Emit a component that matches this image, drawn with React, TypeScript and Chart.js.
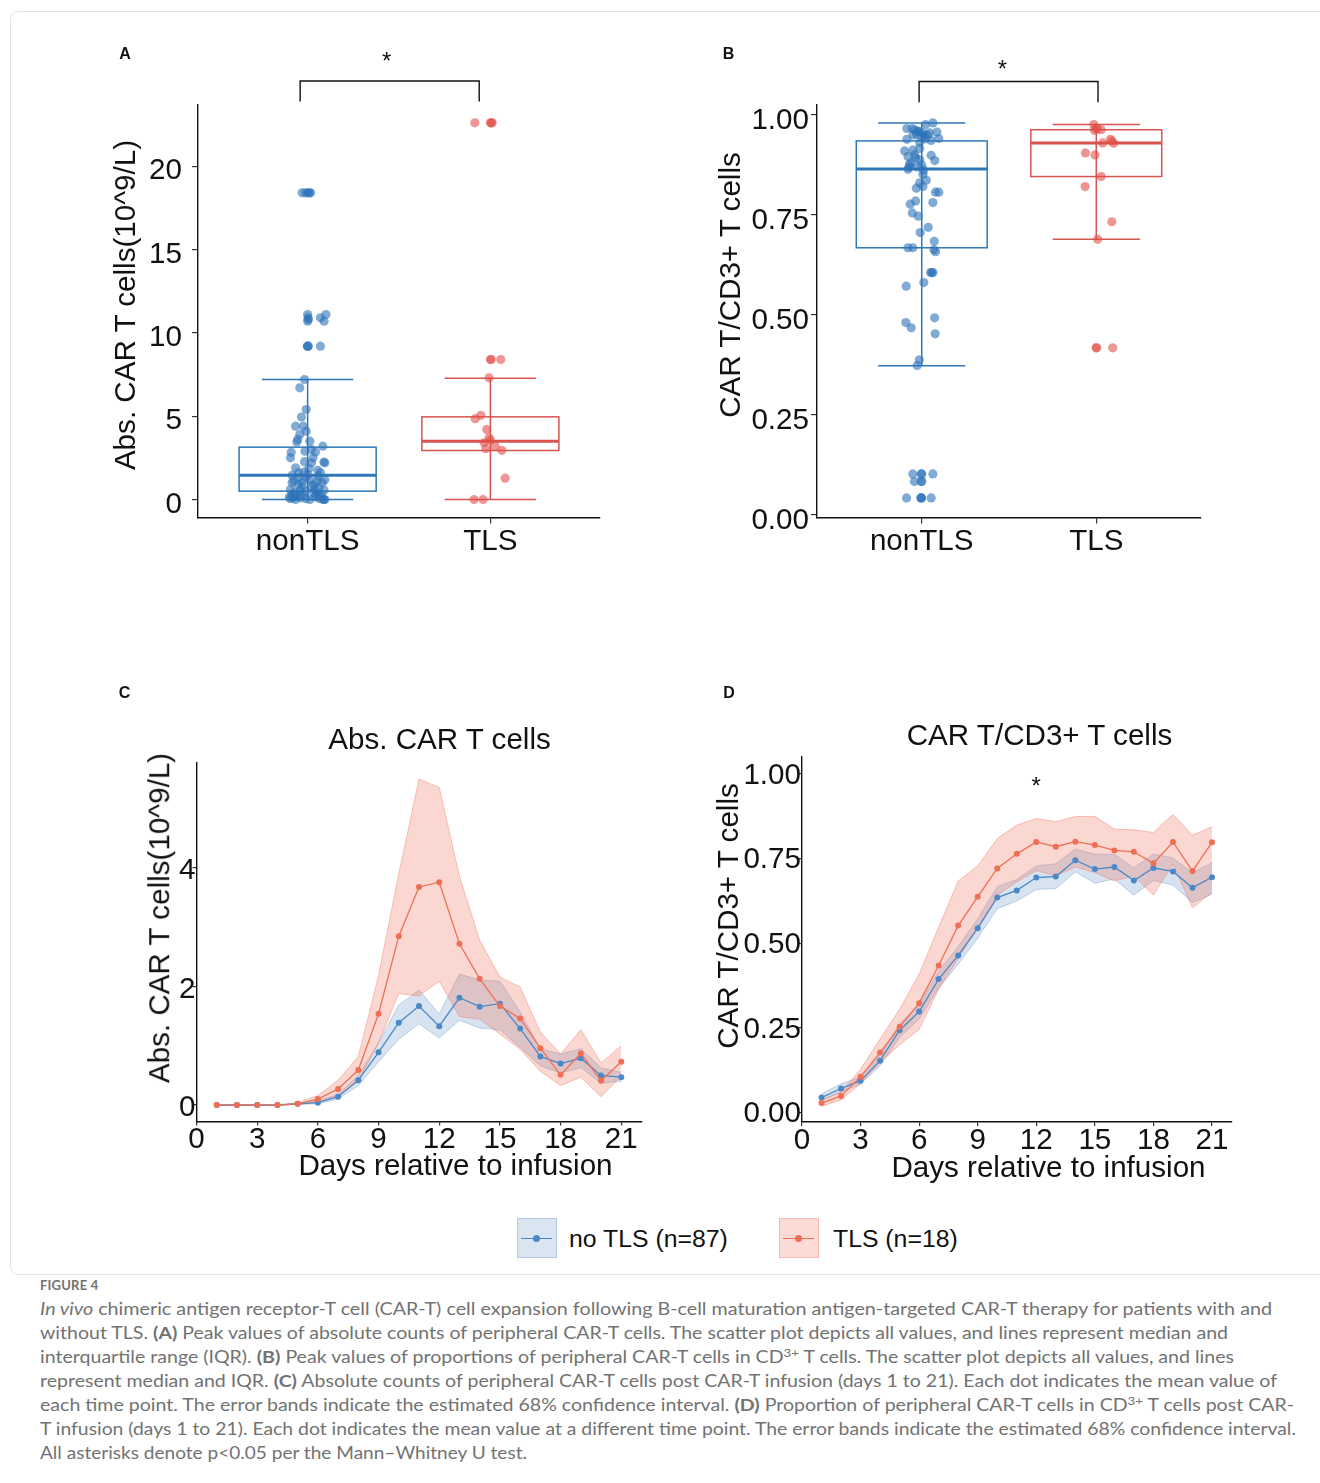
import React, { useEffect, useLayoutEffect, useRef } from 'react';
import { Chart, registerables } from 'chart.js';
Chart.register(...registerables);

const FONT = '"Liberation Sans", Arial, Helvetica, sans-serif';
const AXIS_FS = 29.6;

// ---------------- DATA ----------------
const groups = ['nonTLS', 'TLS'];

// Panel A: peak absolute CAR-T counts (10^9/L); x = jittered group position
const absNonTlsX = [0.970, 0.988, 1.001, 1.010, 1.016, 1.000, 1.002, 1.000, 1.004, 1.070, 1.100, 1.090, 1.000, 1.004, 0.998, 1.070,
  0.983, 0.957, 0.992, 0.966, 0.934, 0.976, 0.992, 0.957, 0.946, 1.012, 0.941, 1.083, 1.043, 1.020, 0.910, 0.906, 0.983, 1.021, 1.089, 1.094,
  0.934, 1.007, 0.980, 1.070, 1.055, 0.952, 1.094, 0.924, 0.915, 0.990, 1.000, 1.050, 0.970, 1.080, 1.034, 0.970, 1.061, 1.040, 0.906, 0.960,
  0.990, 1.034, 1.050, 0.915, 0.930, 0.946, 1.061, 0.900, 0.961, 0.934, 1.012, 1.085, 1.089, 1.094, 0.905, 0.920, 1.075, 1.020, 1.010, 0.950,
  1.030, 0.930, 1.060, 0.970, 1.090, 0.990, 0.950, 1.040, 0.915, 0.985, 1.065];
const absNonTlsY = [18.4, 18.4, 18.4, 18.4, 18.4, 11.1, 10.9, 10.7, 10.8, 10.9, 11.1, 10.7, 9.2, 9.2, 9.2, 9.2,
  7.2, 6.7, 5.4, 4.95, 4.4, 4.4, 4.1, 3.9, 3.6, 3.5, 3.45, 3.2, 2.85, 3.0, 2.83, 2.5, 2.27, 2.2, 2.25, 2.2,
  1.9, 1.86, 1.65, 1.6, 1.75, 1.32, 1.18, 1.12, 1.0, 1.3, 1.5, 1.1, 1.05, 1.0, 0.9, 0.8, 0.7, 0.6, 0.6, 0.55,
  0.5, 0.4, 0.35, 0.3, 0.25, 0.2, 0.2, 0.15, 0.1, 0.0, 0.0, 0.0, 0.0, 0.0, 0.05, 0.1, 0.3, 0.8, 1.2, 1.6,
  2.5, 0.45, 1.4, 0.3, 0.55, 0.05, 0.9, 0.15, 1.45, 2.9, 0.05];
const absTlsX = [1.915, 2.000, 2.005, 2.010, 2.000, 2.005, 2.057, 1.993, 1.948, 1.917, 1.980, 1.993, 2.000, 1.966, 2.026, 1.975, 2.063, 2.081, 1.911, 1.960];
const absTlsY = [22.6, 22.6, 22.6, 22.6, 8.4, 8.4, 8.4, 7.3, 5.05, 4.85, 4.2, 3.7, 3.55, 3.4, 3.2, 3.05, 2.95, 1.28, 0.0, 0.0];
// box statistics [nonTLS, TLS]
const absQ1 = [0.5, 2.94];
const absMedian = [1.45, 3.5];
const absQ3 = [3.14, 4.96];
const absLow = [0, 0];
const absHigh = [7.2, 7.28];

// Panel B: peak proportion CAR-T / CD3+ T cells
const propNonTlsX = [1.064, 1.022, 0.915, 0.946, 0.978, 1.007, 1.045, 1.087, 0.950, 1.033, 0.915, 1.054, 1.098, 0.988, 1.000, 1.015,
  0.902, 0.949, 0.988, 0.921, 0.965, 0.988, 1.054, 1.075, 0.930, 0.927, 0.921, 1.011, 1.007, 1.026, 0.988, 1.007, 0.969, 1.079, 1.098,
  0.965, 0.934, 1.064, 0.946, 0.980, 1.037, 0.991, 1.072, 0.921, 0.949, 1.070, 1.079, 1.051, 1.064, 1.058, 1.012, 0.911, 1.074, 0.909,
  0.940, 1.077, 0.986, 0.974, 0.949, 0.997, 1.000, 1.064, 0.958, 0.997, 1.000, 0.913, 0.994, 0.997, 1.000, 1.054,
  0.962, 0.985, 0.970, 1.020, 0.960, 0.940, 0.975, 1.000];
const propNonTlsY = [0.980, 0.976, 0.966, 0.966, 0.959, 0.955, 0.955, 0.957, 0.950, 0.950, 0.939, 0.936, 0.941, 0.931, 0.945, 0.948,
  0.910, 0.912, 0.916, 0.896, 0.893, 0.888, 0.899, 0.886, 0.877, 0.869, 0.864, 0.862, 0.852, 0.837, 0.830, 0.821, 0.817, 0.807, 0.807,
  0.785, 0.777, 0.781, 0.755, 0.747, 0.719, 0.706, 0.684, 0.668, 0.668, 0.663, 0.658, 0.606, 0.606, 0.606, 0.581, 0.572, 0.493, 0.481,
  0.468, 0.453, 0.388, 0.374, 0.103, 0.103, 0.103, 0.103, 0.084, 0.084, 0.084, 0.043, 0.043, 0.043, 0.043, 0.043,
  0.962, 0.958, 0.952, 0.940, 0.900, 0.880, 0.870, 0.875];
const propTlsX = [1.986, 1.999, 2.028, 1.990, 2.081, 2.037, 2.100, 2.090, 1.938, 1.993, 2.028, 1.936, 2.089, 2.008, 1.999, 2.002, 2.094, 2.005];
const propTlsY = [0.976, 0.967, 0.963, 0.961, 0.939, 0.930, 0.929, 0.935, 0.905, 0.900, 0.846, 0.821, 0.733, 0.689, 0.418, 0.418, 0.418, 0.965];
const propQ1 = [0.668, 0.846];
const propMedian = [0.865, 0.930];
const propQ3 = [0.935, 0.963];
const propLow = [0.373, 0.689];
const propHigh = [0.980, 0.976];

// Panels C & D: time courses, days 1..21
const days = [1, 2, 3, 4, 5, 6, 7, 8, 9, 10, 11, 12, 13, 14, 15, 16, 17, 18, 19, 20, 21];
const absNoTlsMean = [0, 0, 0, 0, 0.02, 0.04, 0.14, 0.42, 0.89, 1.39, 1.67, 1.33, 1.81, 1.66, 1.71, 1.29, 0.82, 0.70, 0.79, 0.50, 0.47];
const absNoTlsLow = [0, 0, 0, 0, 0.01, 0.02, 0.10, 0.33, 0.73, 1.11, 1.37, 1.13, 1.43, 1.30, 1.27, 0.97, 0.66, 0.54, 0.63, 0.37, 0.40];
const absNoTlsHigh = [0, 0, 0, 0.01, 0.03, 0.07, 0.18, 0.50, 1.05, 1.69, 1.94, 1.54, 2.21, 2.11, 2.09, 1.57, 0.95, 0.86, 0.95, 0.63, 0.55];
const absTlsMean = [0, 0, 0, 0, 0.02, 0.10, 0.27, 0.59, 1.54, 2.85, 3.68, 3.76, 2.72, 2.13, 1.67, 1.46, 0.96, 0.51, 0.87, 0.41, 0.73];
const absTlsLow = [0, 0, 0, 0, 0.01, 0.05, 0.16, 0.40, 1.05, 1.88, 1.84, 2.09, 1.49, 1.45, 1.20, 0.94, 0.57, 0.33, 0.47, 0.14, 0.49];
const absTlsHigh = [0, 0, 0, 0, 0.04, 0.16, 0.42, 0.82, 2.18, 3.90, 5.50, 5.36, 3.86, 2.78, 2.16, 1.99, 1.23, 0.86, 1.27, 0.71, 1.00];

const propNoTlsMean = [0.044, 0.071, 0.094, 0.153, 0.243, 0.298, 0.394, 0.464, 0.544, 0.635, 0.656, 0.694, 0.697, 0.745, 0.719, 0.725, 0.685, 0.722, 0.712, 0.664, 0.695];
const propNoTlsLow = [0.035, 0.060, 0.085, 0.138, 0.222, 0.276, 0.368, 0.438, 0.515, 0.602, 0.625, 0.659, 0.661, 0.711, 0.677, 0.690, 0.642, 0.685, 0.672, 0.620, 0.645];
const propNoTlsHigh = [0.055, 0.085, 0.105, 0.170, 0.262, 0.318, 0.418, 0.490, 0.572, 0.667, 0.688, 0.728, 0.735, 0.778, 0.763, 0.762, 0.723, 0.763, 0.752, 0.708, 0.738];
const propTlsMean = [0.028, 0.049, 0.106, 0.177, 0.253, 0.323, 0.434, 0.552, 0.637, 0.721, 0.764, 0.799, 0.785, 0.800, 0.790, 0.774, 0.770, 0.736, 0.799, 0.713, 0.798];
const propTlsLow = [0.018, 0.037, 0.085, 0.148, 0.200, 0.246, 0.364, 0.455, 0.546, 0.642, 0.681, 0.714, 0.699, 0.725, 0.709, 0.684, 0.699, 0.642, 0.734, 0.605, 0.650];
const propTlsHigh = [0.038, 0.061, 0.128, 0.217, 0.305, 0.409, 0.547, 0.684, 0.728, 0.809, 0.849, 0.868, 0.859, 0.874, 0.874, 0.837, 0.835, 0.827, 0.881, 0.819, 0.844];

const abTicks = [0, 5, 10, 15, 20];
const abTickLabels = ['0', '5', '10', '15', '20'];
const propTicks = [0, 0.25, 0.5, 0.75, 1];
const propTickLabels = ['0.00', '0.25', '0.50', '0.75', '1.00'];
const absLineTicks = [0, 2, 4];
const absLineTickLabels = ['0', '2', '4'];
const dayTicks = [0, 3, 6, 9, 12, 15, 18, 21];
const dayTickLabels = ['0', '3', '6', '9', '12', '15', '18', '21'];

// ---------------- STYLE ----------------
const BOX_BLUE = '#2f78b8';
const BOX_RED = '#d9534f';
const PT_BLUE = 'rgba(45,115,185,0.6)';
const PT_RED = 'rgba(225,80,75,0.6)';
const LINE_BLUE = '#4a88c7';
const LINE_RED = '#ef6f55';
const BAND_BLUE = 'rgba(74,126,186,0.22)';
const BAND_BLUE_EDGE = 'rgba(74,126,186,0.30)';
const BAND_RED = 'rgba(242,112,90,0.28)';
const BAND_RED_EDGE = 'rgba(242,112,90,0.40)';

type Rect = { l: number; t: number; r: number; b: number };
type Box = { left: number; top: number; width: number; height: number };

function layoutFor(plot: Rect, box: Box) {
  return {
    padding: { top: plot.t - box.top, right: box.left + box.width - plot.r, left: 0, bottom: 0 },
    yW: plot.l - box.left,
    xH: box.top + box.height - plot.b,
  };
}

function axis(min: number, max: number, ticks: number[], labels: string[], fit: { w?: number; h?: number },
  tickLength: number, padding: number, labelOffset = 0) {
  return {
    type: 'linear',
    min,
    max,
    afterBuildTicks: (s: any) => { s.ticks = ticks.map((v) => ({ value: v })); },
    afterFit: (s: any) => {
      if (fit.w != null) s.width = fit.w;
      if (fit.h != null) s.height = fit.h;
    },
    ticks: {
      autoSkip: false, maxRotation: 0, minRotation: 0, padding, labelOffset, color: '#111',
      font: { family: FONT, size: AXIS_FS },
      callback: (_v: any, i: number) => labels[i],
    },
    grid: { display: true, drawOnChartArea: false, drawTicks: true, tickLength, color: '#333', lineWidth: 1.2 },
    border: { display: true, color: '#111', width: 1.4 },
  };
}

const boxPlugin = {
  id: 'boxes',
  beforeDatasetsDraw(chart: any, _a: any, opts: any) {
    const stats = opts && opts.stats;
    if (!stats) return;
    const { ctx, scales } = chart;
    const px = (v: number) => scales.x.getPixelForValue(v);
    const py = (v: number) => scales.y.getPixelForValue(v);
    stats.forEach((s: any, i: number) => {
      const c = i + 1;
      ctx.save();
      ctx.strokeStyle = s.color;
      ctx.lineWidth = 1.5;
      ctx.beginPath();
      ctx.moveTo(px(c), py(s.lo)); ctx.lineTo(px(c), py(s.hi));
      ctx.moveTo(px(c - 0.25), py(s.lo)); ctx.lineTo(px(c + 0.25), py(s.lo));
      ctx.moveTo(px(c - 0.25), py(s.hi)); ctx.lineTo(px(c + 0.25), py(s.hi));
      ctx.stroke();
      ctx.strokeRect(px(c - 0.375), py(s.q3), px(c + 0.375) - px(c - 0.375), py(s.q1) - py(s.q3));
      ctx.lineWidth = 3;
      ctx.beginPath();
      ctx.moveTo(px(c - 0.375), py(s.med)); ctx.lineTo(px(c + 0.375), py(s.med));
      ctx.stroke();
      ctx.restore();
    });
  },
  afterDraw(chart: any, _a: any, opts: any) {
    const { ctx, scales, chartArea } = chart;
    const br = opts && opts.bracket;
    if (br) {
      const x1 = scales.x.getPixelForValue(br.x1);
      const x2 = scales.x.getPixelForValue(br.x2);
      const yl = chartArea.top - br.lineUp;
      const yb = chartArea.top - br.legUp;
      ctx.save();
      ctx.strokeStyle = '#111';
      ctx.lineWidth = 1.4;
      ctx.beginPath();
      ctx.moveTo(x1, yb); ctx.lineTo(x1, yl); ctx.lineTo(x2, yl); ctx.lineTo(x2, yb);
      ctx.stroke();
      ctx.restore();
    }
    const st = opts && opts.star;
    if (st) {
      const sx = scales.x.getPixelForValue(st.x);
      const sy = st.yVal != null ? scales.y.getPixelForValue(st.yVal) : chartArea.top - st.up;
      ctx.save();
      ctx.fillStyle = '#111';
      ctx.font = `24px ${FONT}`;
      ctx.textAlign = 'center';
      ctx.textBaseline = 'alphabetic';
      ctx.fillText('*', sx, sy + 13.8);
      ctx.restore();
    }
  },
};

function pts(xs: number[], ys: number[]) {
  return xs.map((x, i) => ({ x, y: ys[i] }));
}

function boxChart(box: Box, plot: Rect, yMin: number, yMax: number, yTicks: number[], yLabels: string[], yTick: [number, number, number],
  blueX: number[], blueY: number[], redX: number[], redY: number[], stats: any[], bracket: any, star: any) {
  const L = layoutFor(plot, box);
  return {
    type: 'scatter',
    data: {
      datasets: [
        { data: pts(redX, redY), backgroundColor: PT_RED, borderWidth: 0, pointRadius: 4.6 },
        { data: pts(blueX, blueY), backgroundColor: PT_BLUE, borderWidth: 0, pointRadius: 4.6 },
      ],
    },
    options: {
      animation: false, responsive: false, events: [],
      layout: { padding: L.padding },
      plugins: { legend: { display: false }, tooltip: { enabled: false }, boxes: { stats, bracket, star } },
      scales: {
        x: axis(0.4, 2.6, [1, 2], groups, { h: L.xH }, 6, 1),
        y: axis(yMin, yMax, yTicks, yLabels, { w: L.yW }, yTick[0], yTick[1], yTick[2]),
      },
    },
    plugins: [boxPlugin],
  };
}

function lineChart(box: Box, plot: Rect, yMin: number, yMax: number, yTicks: number[], yLabels: string[], yLabelOffset: number,
  bMean: number[], bLow: number[], bHigh: number[], rMean: number[], rLow: number[], rHigh: number[], star: any) {
  const L = layoutFor(plot, box);
  const line = (ys: number[], c: string) => ({
    data: pts(days, ys), borderColor: c, backgroundColor: c, borderWidth: 1.3, pointRadius: 3, pointBorderWidth: 0, fill: false, tension: 0,
  });
  const edge = (ys: number[], c: string, fillC: string | null) => ({
    data: pts(days, ys), borderColor: c, borderWidth: 1, pointRadius: 0, tension: 0,
    fill: fillC ? '+1' : false, backgroundColor: fillC || 'transparent',
  });
  return {
    type: 'line',
    data: {
      datasets: [
        line(rMean, LINE_RED),
        line(bMean, LINE_BLUE),
        edge(rHigh, BAND_RED_EDGE, BAND_RED),
        edge(rLow, BAND_RED_EDGE, null),
        edge(bHigh, BAND_BLUE_EDGE, BAND_BLUE),
        edge(bLow, BAND_BLUE_EDGE, null),
      ],
    },
    options: {
      animation: false, responsive: false, events: [],
      layout: { padding: L.padding },
      plugins: { legend: { display: false }, tooltip: { enabled: false }, boxes: { star } },
      scales: {
        x: axis(0, 22, dayTicks, dayTickLabels, { h: L.xH }, 4, -3),
        y: axis(yMin, yMax, yTicks, yLabels, { w: L.yW }, 4, -3, yLabelOffset),
      },
    },
    plugins: [boxPlugin],
  };
}

// ---------------- COMPONENTS ----------------
function ChartBox({ box, make }: { box: Box; make: () => any }) {
  const ref = useRef<HTMLCanvasElement>(null);
  useEffect(() => {
    const chart = new Chart(ref.current as HTMLCanvasElement, make());
    return () => chart.destroy();
  }, []);
  return (
    <div style={{ position: 'absolute', left: box.left, top: box.top, width: box.width, height: box.height }}>
      <canvas ref={ref} width={box.width} height={box.height} style={{ display: 'block', width: box.width, height: box.height }} />
    </div>
  );
}

function Txt({ x, y, size = AXIS_FS, rot = 0, weight = 400, color = '#111', anchor = 'center', children }: any) {
  const tx = anchor === 'center' ? '-50%' : anchor === 'left' ? '0%' : '-100%';
  return (
    <div style={{
      position: 'absolute', left: x, top: y, transform: `translate(${tx},-50%) rotate(${rot}deg)`,
      fontFamily: FONT, fontSize: size, fontWeight: weight, color, lineHeight: 1, whiteSpace: 'nowrap',
    }}>{children}</div>
  );
}

function FitLine({ x, y, width, children }: any) {
  const ref = useRef<HTMLDivElement>(null);
  useLayoutEffect(() => {
    const el = ref.current;
    if (!el) return;
    const fit = () => {
      el.style.transform = 'none';
      const w = el.getBoundingClientRect().width;
      if (w > 0) el.style.transform = `scaleX(${width / w})`;
    };
    fit();
    const f: any = (document as any).fonts;
    if (f && f.ready) f.ready.then(fit);
  }, [width]);
  return (
    <div ref={ref} style={{
      position: 'absolute', left: x, top: y - 12, height: 24, lineHeight: '24px', whiteSpace: 'nowrap',
      transformOrigin: '0 0', fontFamily: 'Lato, "Open Sans", sans-serif', fontSize: 17, color: '#727272',
    }}>{children}</div>
  );
}

const Sup = ({ children }: any) => <sup style={{ fontSize: '0.68em', lineHeight: 0, verticalAlign: '0.55em' }}>{children}</sup>;

function LegendItem({ x, fill, border, line, label, textX }: any) {
  return (
    <>
      <div style={{ position: 'absolute', left: x, top: 1218, width: 38, height: 38, background: fill, border: `1px solid ${border}` }} />
      <div style={{ position: 'absolute', left: x + 4, top: 1237.5, width: 31, height: 1.3, background: line }} />
      <div style={{ position: 'absolute', left: x + 16, top: 1235, width: 7, height: 7, borderRadius: '50%', background: line }} />
      <Txt x={textX} y={1239} size={24.8} anchor="left">{label}</Txt>
    </>
  );
}

const boxA: Box = { left: 100, top: 40, width: 530, height: 535 };
const plotA: Rect = { l: 198, t: 104.5, r: 600, b: 517.5 };
const boxB: Box = { left: 700, top: 40, width: 530, height: 535 };
const plotB: Rect = { l: 817, t: 104.5, r: 1201, b: 517.5 };
const boxC: Box = { left: 100, top: 740, width: 570, height: 440 };
const plotC: Rect = { l: 196.5, t: 762.5, r: 641.5, b: 1121.5 };
const boxD: Box = { left: 700, top: 735, width: 560, height: 445 };
const plotD: Rect = { l: 802, t: 757, r: 1231.5, b: 1122 };

export default function App() {
  const statsA = [0, 1].map((i) => ({ q1: absQ1[i], med: absMedian[i], q3: absQ3[i], lo: absLow[i], hi: absHigh[i], color: i ? BOX_RED : BOX_BLUE }));
  const statsB = [0, 1].map((i) => ({ q1: propQ1[i], med: propMedian[i], q3: propQ3[i], lo: propLow[i], hi: propHigh[i], color: i ? BOX_RED : BOX_BLUE }));
  return (
    <div style={{ position: 'absolute', left: 0, top: 0, width: 1320, height: 1483, overflow: 'hidden', background: '#fff' }}>
      <div style={{ position: 'absolute', left: 10, top: 11, width: 1330, height: 1262, border: '1px solid #e3e3e3', borderRadius: 8 }} />

      <ChartBox box={boxA} make={() => boxChart(boxA, plotA, -1.08, 23.7, abTicks, abTickLabels, [6, 10, 5],
        absNonTlsX, absNonTlsY, absTlsX, absTlsY, statsA, { x1: 0.959, x2: 1.939, lineUp: 23.5, legUp: 3 }, { x: 1.432, up: 49.5 })} />
      <ChartBox box={boxB} make={() => boxChart(boxB, plotB, -0.006, 1.026, propTicks, propTickLabels, [6, 2, 5.5],
        propNonTlsX, propNonTlsY, propTlsX, propTlsY, statsB, { x1: 0.985, x2: 2.01, lineUp: 23, legUp: 2.2 }, { x: 1.463, up: 41 })} />
      <ChartBox box={boxC} make={() => lineChart(boxC, plotC, -0.278, 5.78, absLineTicks, absLineTickLabels, 3,
        absNoTlsMean, absNoTlsLow, absNoTlsHigh, absTlsMean, absTlsLow, absTlsHigh, null)} />
      <ChartBox box={boxD} make={() => lineChart(boxD, plotD, -0.028, 1.05, propTicks, propTickLabels, 1.5,
        propNoTlsMean, propNoTlsLow, propNoTlsHigh, propTlsMean, propTlsLow, propTlsHigh, { x: 12, yVal: 0.982 })} />

      <Txt x={125} y={54} size={16} weight={700}>A</Txt>
      <Txt x={728.5} y={54} size={16} weight={700}>B</Txt>
      <Txt x={124.5} y={693} size={16} weight={700}>C</Txt>
      <Txt x={729} y={693} size={16} weight={700}>D</Txt>

      <Txt x={125} y={305} rot={-90}>Abs. CAR T cells(10^9/L)</Txt>
      <Txt x={730} y={285} rot={-90}>CAR T/CD3+ T cells</Txt>
      <Txt x={158.5} y={918} rot={-90}>Abs. CAR T cells(10^9/L)</Txt>
      <Txt x={728} y={915.5} rot={-90}>CAR T/CD3+ T cells</Txt>

      <Txt x={439.5} y={739}>Abs. CAR T cells</Txt>
      <Txt x={1039.5} y={735}>CAR T/CD3+ T cells</Txt>
      <Txt x={455.5} y={1164.5}>Days relative to infusion</Txt>
      <Txt x={1048.5} y={1166.5}>Days relative to infusion</Txt>

      <LegendItem x={517} fill="rgba(74,126,186,0.2)" border="rgba(74,126,186,0.28)" line={LINE_BLUE} label="no TLS (n=87)" textX={569} />
      <LegendItem x={779} fill="rgba(242,112,90,0.25)" border="rgba(242,112,90,0.3)" line={LINE_RED} label="TLS (n=18)" textX={833} />

      <div style={{ position: 'absolute', left: 40, top: 1277, fontFamily: 'Lato, sans-serif', fontSize: 13, fontWeight: 700, color: '#727272', letterSpacing: 0.2 }}>FIGURE 4</div>
      <FitLine x={40} y={1309} width={1232}><i>In vivo</i> chimeric antigen receptor-T cell (CAR-T) cell expansion following B-cell maturation antigen-targeted CAR-T therapy for patients with and</FitLine>
      <FitLine x={40} y={1333} width={1188}>without TLS. <b>(A)</b> Peak values of absolute counts of peripheral CAR-T cells. The scatter plot depicts all values, and lines represent median and</FitLine>
      <FitLine x={40} y={1357} width={1194}>interquartile range (IQR). <b>(B)</b> Peak values of proportions of peripheral CAR-T cells in CD<Sup>3+</Sup> T cells. The scatter plot depicts all values, and lines</FitLine>
      <FitLine x={40} y={1381} width={1237}>represent median and IQR. <b>(C)</b> Absolute counts of peripheral CAR-T cells post CAR-T infusion (days 1 to 21). Each dot indicates the mean value of</FitLine>
      <FitLine x={40} y={1405} width={1254}>each time point. The error bands indicate the estimated 68% confidence interval. <b>(D)</b> Proportion of peripheral CAR-T cells in CD<Sup>3+</Sup> T cells post CAR-</FitLine>
      <FitLine x={40} y={1429} width={1256}>T infusion (days 1 to 21). Each dot indicates the mean value at a different time point. The error bands indicate the estimated 68% confidence interval.</FitLine>
      <FitLine x={40} y={1453} width={487}>All asterisks denote p&lt;0.05 per the Mann–Whitney U test.</FitLine>
    </div>
  );
}
